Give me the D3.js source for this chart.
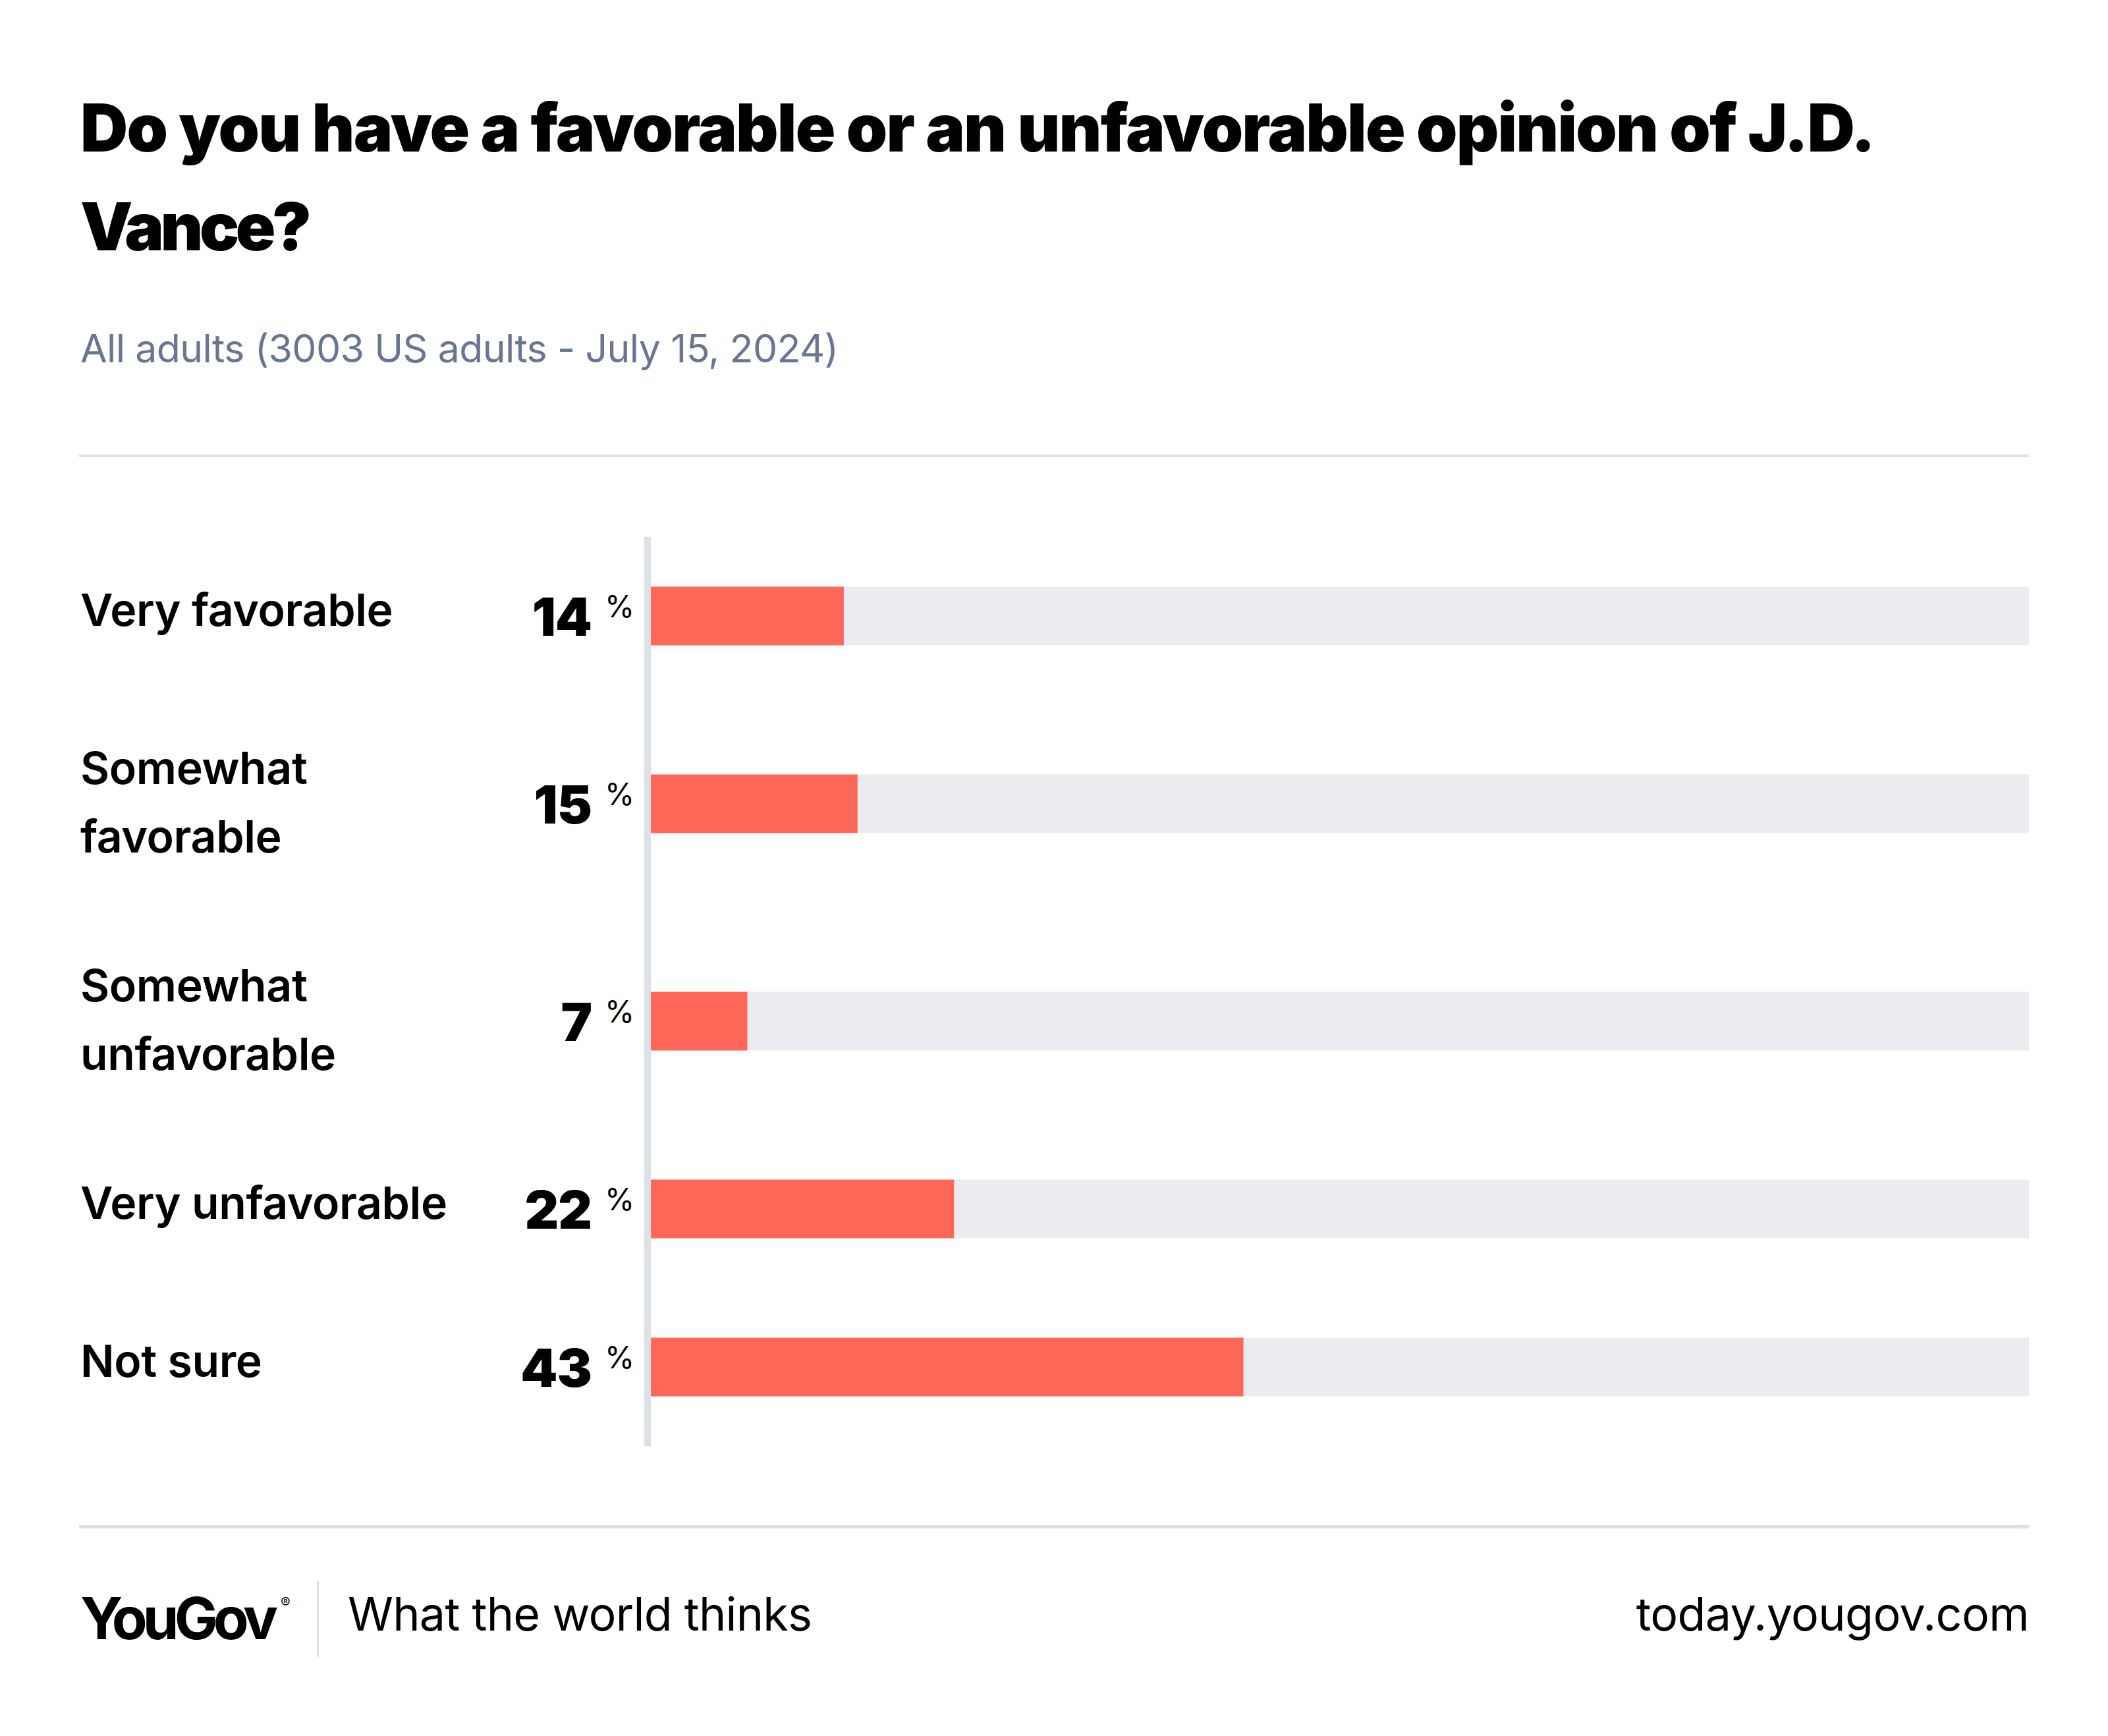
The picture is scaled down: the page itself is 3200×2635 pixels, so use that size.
<!DOCTYPE html>
<html>
<head>
<meta charset="utf-8">
<script src="https://cdn.jsdelivr.net/npm/d3@7"></script>
<style>
  html, body { margin: 0; padding: 0; background: #ffffff; }
  svg { display: block; }
  text { font-family: Inter, "Noto Sans", sans-serif; }
</style>
</head>
<body>
<svg id="chart" width="3200" height="2635"></svg>
<script>
// ---- data ----
const titleLines = ["Do you have a favorable or an unfavorable opinion of J.D.", "Vance?"];
const subtitle = "All adults (3003 US adults - July 15, 2024)";
const categories = ["Very favorable", "Somewhat favorable", "Somewhat unfavorable", "Very unfavorable", "Not sure"];
const labelLines = [["Very favorable"], ["Somewhat", "favorable"], ["Somewhat", "unfavorable"], ["Very unfavorable"], ["Not sure"]];
const values = [14, 15, 7, 22, 43];
const domainMax = 100;
const footerBrand = "YouGov";
const footerTagline = "What the world thinks";
const footerUrl = "today.yougov.com";

// ---- layout ----
const W = 3200, H = 2635;
const left = 122, right = 3080;
const barX0 = 988;
const svg = d3.select("#chart");
svg.append("rect").attr("width", W).attr("height", H).attr("fill", "#fff");

function fitWidth(sel, target) {
  const node = sel.node();
  const n = node.getNumberOfChars();
  const w = node.getComputedTextLength();
  const ls = (target - w) / Math.max(1, n - 1);
  sel.style("letter-spacing", ls + "px");
}

// title
const titleBaselines = [230, 380];
const titleWidths = [2725, 351];
titleLines.forEach((t, i) => {
  const s = svg.append("text").attr("x", left).attr("y", titleBaselines[i])
    .attr("font-size", 100).attr("font-weight", 900).attr("fill", "#000").text(t);
  fitWidth(s, titleWidths[i]);
});

// subtitle
const sub = svg.append("text").attr("x", left).attr("y", 550)
  .attr("font-size", 59).attr("font-weight", 400).attr("fill", "#6a7593").text(subtitle);
fitWidth(sub, 1151);

// dividers
svg.append("rect").attr("x", left - 2).attr("y", 690).attr("width", right - left + 2).attr("height", 4).attr("fill", "#dfe1e8");
svg.append("rect").attr("x", left - 2).attr("y", 2315).attr("width", right - left + 2).attr("height", 5).attr("fill", "#dfe1e8");

// rows: height depends on number of label lines
const rowTop0 = 815, rowBase = 150, rowPerLine = 90;
const rows = [];
let yCursor = rowTop0;
categories.forEach((c, i) => {
  const h = rowBase + rowPerLine * labelLines[i].length;
  rows.push({ cat: c, lines: labelLines[i], value: values[i], top: yCursor, h: h });
  yCursor += h;
});

const x = d3.scaleLinear().domain([0, domainMax]).range([barX0, right]);
const barH = 89;

// axis line
svg.append("rect").attr("x", 978).attr("y", rowTop0).attr("width", 10)
  .attr("height", yCursor - rowTop0).attr("fill", "#dee0e8");

const g = svg.append("g");
rows.forEach(r => {
  const cy = r.top + r.h / 2;
  // background track
  g.append("rect").attr("x", x(0)).attr("y", cy - barH / 2)
    .attr("width", x(domainMax) - x(0)).attr("height", barH).attr("fill", "#ececf0");
  // value bar
  g.append("rect").attr("x", x(0)).attr("y", cy - barH / 2)
    .attr("width", x(r.value) - x(0)).attr("height", barH).attr("fill", "#ff6859");
  // label
  const t = g.append("text").attr("x", left).attr("y", r.top + 135)
    .attr("font-size", 68).attr("font-weight", 600).attr("fill", "#000")
    .style("letter-spacing", "-0.4px");
  r.lines.forEach((ln, j) => {
    t.append("tspan").attr("x", left).attr("dy", j === 0 ? 0 : 104).text(ln);
  });
  // value
  g.append("text").attr("x", 898).attr("y", cy + 30).attr("text-anchor", "end")
    .attr("font-size", 80).attr("font-weight", 900).attr("fill", "#000")
    .style("letter-spacing", "-1px").text(r.value);
  g.append("text").attr("x", 918).attr("y", cy + 2)
    .attr("font-size", 46).attr("font-weight", 400).attr("fill", "#000").text("%");
});

// footer
const brand = svg.append("text").attr("x", left).attr("y", 2488)
  .attr("font-size", 88).attr("font-weight", 700).attr("fill", "#000").text(footerBrand);
fitWidth(brand, 300);
svg.append("text").attr("x", 426).attr("y", 2440).attr("font-size", 22).attr("fill", "#000").text("®");
svg.append("rect").attr("x", 481).attr("y", 2400).attr("width", 3).attr("height", 115).attr("fill", "#dfe1e8");
const tag = svg.append("text").attr("x", 528).attr("y", 2475)
  .attr("font-size", 70).attr("font-weight", 400).attr("fill", "#000").text(footerTagline);
fitWidth(tag, 705);
const url = svg.append("text").attr("x", right).attr("y", 2475).attr("text-anchor", "end")
  .attr("font-size", 70).attr("font-weight", 400).attr("fill", "#000").text(footerUrl);
fitWidth(url, 597);
</script>
</body>
</html>
